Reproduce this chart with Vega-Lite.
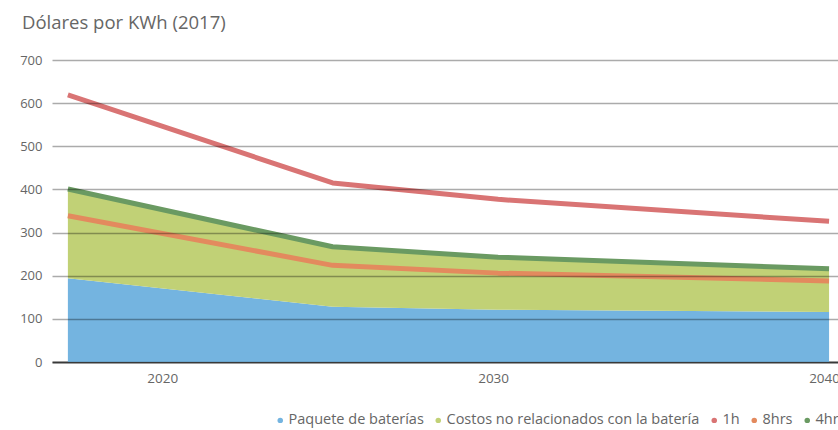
{
  "$schema": "https://vega.github.io/schema/vega-lite/v6.json",
  "autosize": {"type": "none"},
  "width": 786,
  "height": 302,
  "padding": {"left": 52, "top": 60, "right": 0, "bottom": 68},
  "background": "white",
  "title": {
    "text": "Dólares por KWh (2017)",
    "anchor": "start",
    "frame": "group",
    "dx": -30,
    "offset": 22,
    "font": "Open Sans",
    "fontSize": 18.5,
    "fontWeight": "normal",
    "color": "#666666"
  },
  "config": {
    "view": {"stroke": null},
    "font": "Open Sans"
  },
  "data": {
    "values": [
      {"year": 2017, "serie": "Paquete de baterías", "value": 194},
      {"year": 2025, "serie": "Paquete de baterías", "value": 128},
      {"year": 2030, "serie": "Paquete de baterías", "value": 121},
      {"year": 2040, "serie": "Paquete de baterías", "value": 116},
      {"year": 2017, "serie": "Costos no relacionados con la batería", "value": 207},
      {"year": 2025, "serie": "Costos no relacionados con la batería", "value": 139},
      {"year": 2030, "serie": "Costos no relacionados con la batería", "value": 122},
      {"year": 2040, "serie": "Costos no relacionados con la batería", "value": 100},
      {"year": 2017, "serie": "1h", "value": 619},
      {"year": 2025, "serie": "1h", "value": 415},
      {"year": 2030, "serie": "1h", "value": 377},
      {"year": 2040, "serie": "1h", "value": 326},
      {"year": 2017, "serie": "8hrs", "value": 339},
      {"year": 2025, "serie": "8hrs", "value": 224},
      {"year": 2030, "serie": "8hrs", "value": 206},
      {"year": 2040, "serie": "8hrs", "value": 188},
      {"year": 2017, "serie": "4hrs", "value": 401},
      {"year": 2025, "serie": "4hrs", "value": 267},
      {"year": 2030, "serie": "4hrs", "value": 243},
      {"year": 2040, "serie": "4hrs", "value": 216}
    ]
  },
  "encoding": {
    "x": {
      "field": "year",
      "type": "quantitative",
      "scale": {"domain": [2016.52, 2040.27], "nice": false, "zero": false},
      "axis": {
        "title": null,
        "values": [2020, 2030, 2040],
        "format": "d",
        "grid": false,
        "ticks": false,
        "domain": true,
        "domainColor": "#555555",
        "domainWidth": 2,
        "labelFont": "Open Sans",
        "labelFontSize": 13.5,
        "labelColor": "#666666",
        "labelPadding": 9,
        "labelOffset": -5
      }
    },
    "color": {
      "field": "serie",
      "type": "nominal",
      "scale": {
        "domain": ["Paquete de baterías", "Costos no relacionados con la batería", "1h", "8hrs", "4hrs"],
        "range": ["#74b4e0", "#c1d176", "#d97474", "#e38a5e", "#6a9a62"]
      },
      "legend": {
        "title": null,
        "orient": "none",
        "direction": "horizontal",
        "legendX": 221,
        "legendY": 353,
        "padding": 0,
        "symbolType": "circle",
        "symbolSize": 30,
        "symbolStrokeWidth": 0,
        "labelFont": "Open Sans",
        "labelFontSize": 14.5,
        "labelColor": "#666666",
        "labelOffset": 1,
        "columnPadding": 7,
        "labelLimit": 400,
        "encode": {
          "symbols": {
            "update": {
              "fill": {"signal": "datum.value === 'Paquete de baterías' ? '#1e90d8' : datum.value === 'Costos no relacionados con la batería' ? '#9cc33c' : datum.value === '1h' ? '#c8234a' : datum.value === '8hrs' ? '#e8923e' : '#1a7c3c'"},
              "stroke": {"value": "transparent"},
              "opacity": {"value": 1}
            }
          }
        }
      }
    }
  },
  "layer": [
    {
      "transform": [{"filter": {"field": "serie", "oneOf": ["Paquete de baterías", "Costos no relacionados con la batería"]}}],
      "mark": {"type": "area", "opacity": 1},
      "encoding": {
        "y": {
          "field": "value",
          "type": "quantitative",
          "stack": "zero",
          "scale": {"domain": [0, 700], "nice": false},
          "axis": {
            "title": null,
            "values": [0, 100, 200, 300, 400, 500, 600, 700],
            "grid": true,
            "gridColor": "#000000",
            "gridOpacity": 0.33,
            "gridWidth": 1.6,
            "ticks": false,
            "domain": false,
            "zindex": 1,
            "labelFont": "Open Sans",
            "labelFontSize": 13,
            "labelColor": "#666666",
            "labelPadding": 10
          }
        },
        "order": {"field": "serie", "sort": "descending"}
      }
    },
    {
      "transform": [{"filter": {"field": "serie", "oneOf": ["1h", "8hrs", "4hrs"]}}],
      "mark": {"type": "line", "strokeWidth": 5, "strokeJoin": "round", "strokeCap": "butt"},
      "encoding": {
        "y": {"field": "value", "type": "quantitative"}
      }
    }
  ]
}
